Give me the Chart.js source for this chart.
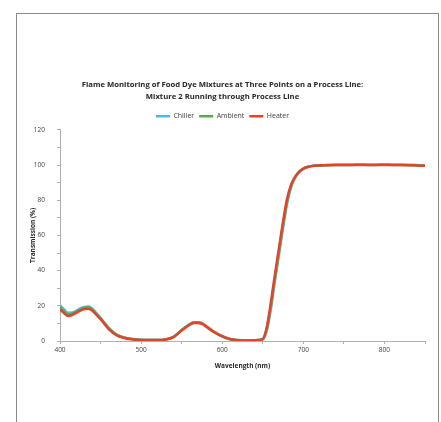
<!DOCTYPE html>
<html>
<head>
<meta charset="utf-8">
<script src="https://cdn.jsdelivr.net/npm/chart.js@4"></script>
<style>
  html, body { margin: 0; padding: 0; background: #fff; }
  #frame { position: absolute; left: 16px; top: 13px; width: 421px; height: 420px; border: 1px solid #8a8a8a; border-bottom: none; }
  #chart { position: absolute; left: 0; top: 0; }
</style>
</head>
<body>
<div id="frame"></div>
<canvas id="chart" width="441" height="422"></canvas>
<script>
const titleLines = [
    "Flame Monitoring of Food Dye Mixtures at Three Points on a Process Line:",
    "Mixture 2 Running through Process Line"
];
const seriesNames = ["Chiller", "Ambient", "Heater"];
const seriesColors = ["#5ab4e0", "#5aab4f", "#e0452a"];

const wavelength = [400, 405, 410, 415, 420, 425, 430, 435, 440, 445, 450, 460, 470, 480, 490, 500, 510, 520, 530, 540,
    550, 560, 565, 570, 575, 580, 590, 600, 610, 620, 630, 640, 645, 650, 655, 660, 665, 670, 675, 680,
    685, 690, 695, 700, 705, 710, 720, 730, 740, 750, 760, 770, 780, 790, 800, 810, 820, 830, 840, 850];

const chiller = [20.2, 18.0, 16.0, 16.2, 17.2, 18.5, 19.4, 19.6, 18.4, 15.8, 13.2, 7.6, 3.6, 1.9, 1.1, 0.7, 0.5, 0.5, 0.8, 2.4,
    6.3, 9.6, 10.6, 10.7, 10.1, 8.6, 5.3, 2.8, 1.1, 0.5, 0.3, 0.4, 0.6, 0.9, 6.0, 18.0, 34.0, 49.0, 64.0, 78.0,
    87.5, 92.8, 96.0, 97.8, 98.9, 99.5, 99.9, 100.1, 100.2, 100.2, 100.2, 100.3, 100.2, 100.2, 100.3, 100.2, 100.2, 100.1, 100.0, 99.7];

const ambient = [19.0, 16.8, 15.0, 15.4, 16.6, 17.9, 18.9, 19.0, 17.8, 15.2, 12.8, 7.2, 3.4, 1.8, 1.0, 0.6, 0.5, 0.5, 0.8, 2.3,
    6.2, 9.5, 10.5, 10.6, 10.0, 8.4, 5.1, 2.7, 1.0, 0.4, 0.3, 0.4, 0.6, 1.0, 7.0, 20.0, 36.0, 51.0, 66.0, 79.5,
    88.3, 93.2, 96.2, 97.9, 98.9, 99.4, 99.8, 100.0, 100.1, 100.1, 100.1, 100.2, 100.1, 100.1, 100.2, 100.1, 100.1, 100.0, 99.9, 99.6];

const heater = [18.0, 15.8, 14.2, 14.8, 16.0, 17.3, 18.2, 18.4, 17.2, 14.8, 12.4, 6.8, 3.2, 1.6, 0.9, 0.6, 0.5, 0.5, 0.8, 2.2,
    6.0, 9.3, 10.2, 10.3, 9.7, 8.2, 5.0, 2.6, 1.0, 0.4, 0.3, 0.4, 0.6, 1.2, 8.0, 22.0, 38.0, 53.0, 68.0, 81.0,
    89.0, 93.5, 96.3, 98.0, 98.9, 99.4, 99.8, 99.9, 100.0, 100.0, 100.0, 100.1, 100.0, 100.0, 100.1, 100.0, 100.0, 99.9, 99.8, 99.6];

const seriesValues = [chiller, ambient, heater];

const font = "'Open Sans', 'Liberation Sans', sans-serif";

const datasets = seriesNames.map((name, i) => ({
    label: name,
    data: wavelength.map((x, j) => ({ x: x, y: seriesValues[i][j] })),
    borderColor: seriesColors[i],
    backgroundColor: seriesColors[i],
    borderWidth: 2.5,
    pointRadius: 0,
    tension: 0.4,
    cubicInterpolationMode: 'monotone',
    order: 3 - i
}));

new Chart(document.getElementById('chart').getContext('2d'), {
    type: 'line',
    data: { datasets: datasets },
    options: {
        responsive: false,
        animation: false,
        layout: { padding: { left: 20, right: 16, top: 0, bottom: 50 } },
        plugins: {
            title: {
                display: true,
                text: titleLines,
                color: '#262626',
                font: { family: font, size: 7.7, weight: 'bold', lineHeight: 1.55 },
                padding: { top: 79, bottom: 5 }
            },
            legend: {
                position: 'top',
                labels: {
                    color: '#404040',
                    font: { family: font, size: 7 },
                    usePointStyle: true,
                    pointStyle: 'line',
                    pointStyleWidth: 14,
                    boxHeight: 6,
                    padding: 5,
                    sort: (a, b) => a.datasetIndex - b.datasetIndex
                }
            },
            tooltip: { enabled: false }
        },
        scales: {
            x: {
                type: 'linear',
                min: 400,
                max: 850,
                afterFit: s => { s.height = 31; },
                ticks: {
                    stepSize: 50,
                    autoSkip: false,
                    maxRotation: 0,
                    padding: 2,
                    color: '#404040',
                    font: { family: font, size: 6.5 },
                    callback: v => (v % 100 === 0 && v < 850) ? v : ''
                },
                grid: { drawOnChartArea: false, tickLength: 3, color: '#b0b0b0' },
                border: { color: '#b0b0b0' },
                title: {
                    display: true,
                    text: 'Wavelength (nm)',
                    color: '#262626',
                    font: { family: font, size: 6.5, weight: 'bold' },
                    padding: { top: 0, bottom: 2 }
                }
            },
            y: {
                min: 0,
                max: 120,
                afterFit: s => { s.width = 40; },
                ticks: {
                    stepSize: 10,
                    autoSkip: false,
                    padding: 12,
                    color: '#404040',
                    font: { family: font, size: 6.5 },
                    callback: v => v % 20 === 0 ? v : ''
                },
                grid: { drawOnChartArea: false, tickLength: 3, color: '#b0b0b0' },
                border: { color: '#b0b0b0' },
                title: {
                    display: true,
                    text: 'Transmission (%)',
                    color: '#262626',
                    font: { family: font, size: 6.5, weight: 'bold' },
                    padding: { top: 9, bottom: 0 }
                }
            }
        }
    }
});
</script>
</body>
</html>
